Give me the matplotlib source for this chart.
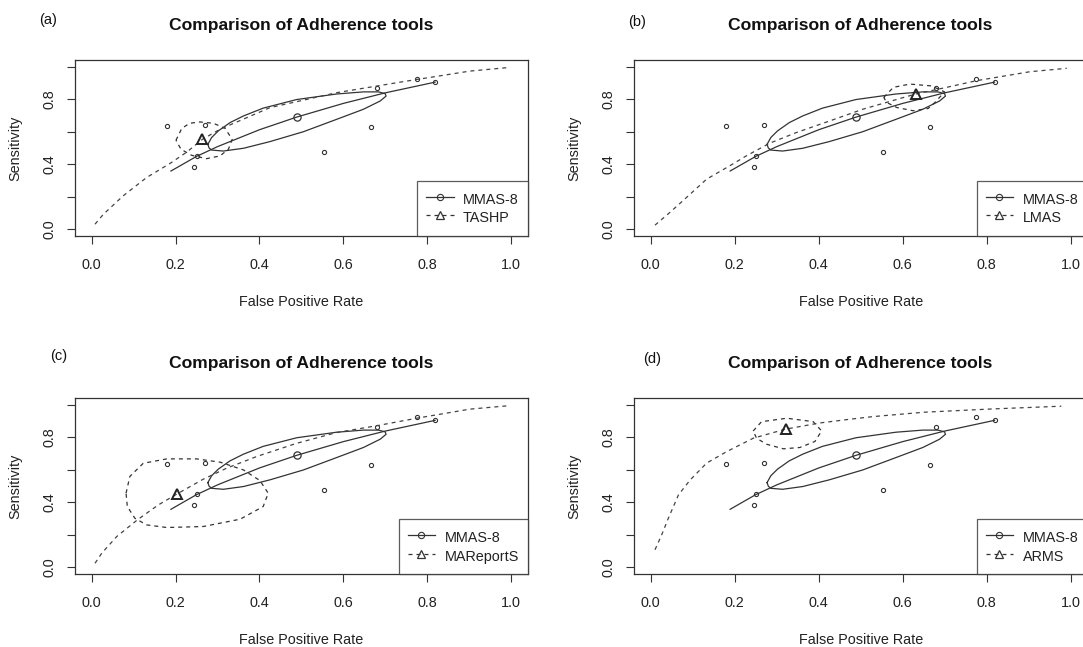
import matplotlib
matplotlib.use("Agg")
import matplotlib.pyplot as plt
from matplotlib.lines import Line2D

plt.rcParams['font.family'] = ['Liberation Sans', 'DejaVu Sans']

W, H = 1083, 647
INK = '#333333'

# study estimates of MMAS-8 (same in every panel)
study_fpr = [0.179, 0.270, 0.245, 0.250, 0.554, 0.665, 0.680, 0.775, 0.819]
study_sens = [0.635, 0.641, 0.383, 0.451, 0.475, 0.629, 0.867, 0.926, 0.905]

# MMAS-8 summary point, SROC curve and confidence region
mmas_fpr, mmas_sens = 0.489, 0.690
mmas_sroc_fpr = [0.189, 0.25, 0.30, 0.40, 0.489, 0.60, 0.70, 0.819]
mmas_sroc_sens = [0.358, 0.448, 0.508, 0.612, 0.690, 0.774, 0.839, 0.905]
mmas_region_fpr = [0.277, 0.286, 0.302, 0.330, 0.362, 0.409, 0.489, 0.584, 0.648, 0.684,
                   0.700, 0.702, 0.688, 0.648, 0.584, 0.505, 0.425, 0.362, 0.314, 0.286,
                   0.280]
mmas_region_sens = [0.522, 0.564, 0.605, 0.656, 0.697, 0.745, 0.798, 0.832, 0.845, 0.845,
                    0.834, 0.819, 0.789, 0.738, 0.676, 0.600, 0.539, 0.498, 0.481, 0.487,
                    0.500]

# comparison tools, one per panel
panel_tags = ['(a)', '(b)', '(c)', '(d)']
tools = ['TASHP', 'LMAS', 'MAReportS', 'ARMS']
tool_fpr = [0.264, 0.631, 0.204, 0.321]
tool_sens = [0.553, 0.832, 0.453, 0.851]

tool_sroc_fpr = [
    [0.008, 0.028, 0.075, 0.131, 0.187, 0.227, 0.264, 0.306, 0.425, 0.584, 0.743, 0.902, 0.990],
    [0.010, 0.045, 0.085, 0.133, 0.188, 0.228, 0.284, 0.347, 0.427, 0.506, 0.631, 0.705, 0.776, 0.903, 0.991],
    [0.008, 0.024, 0.060, 0.111, 0.159, 0.204, 0.266, 0.322, 0.394, 0.489, 0.584, 0.680, 0.775, 0.902, 0.990],
    [0.010, 0.026, 0.042, 0.066, 0.094, 0.133, 0.181, 0.244, 0.321, 0.403, 0.475, 0.529, 0.651, 0.812, 0.978],
]
tool_sroc_sens = [
    [0.031, 0.092, 0.205, 0.318, 0.405, 0.475, 0.553, 0.615, 0.748, 0.840, 0.908, 0.973, 0.994],
    [0.025, 0.102, 0.195, 0.308, 0.390, 0.452, 0.530, 0.595, 0.667, 0.739, 0.832, 0.873, 0.914, 0.969, 0.990],
    [0.026, 0.088, 0.191, 0.297, 0.385, 0.453, 0.543, 0.611, 0.683, 0.764, 0.830, 0.872, 0.918, 0.974, 0.994],
    [0.109, 0.201, 0.304, 0.447, 0.539, 0.642, 0.713, 0.795, 0.851, 0.889, 0.912, 0.928, 0.955, 0.975, 0.992],
]
tool_region_fpr = [
    [0.201, 0.215, 0.234, 0.258, 0.290, 0.318, 0.335, 0.326, 0.306, 0.274, 0.238, 0.213],
    [0.555, 0.578, 0.617, 0.668, 0.700, 0.677, 0.661, 0.625, 0.586, 0.562],
    [0.082, 0.091, 0.123, 0.179, 0.250, 0.306, 0.362, 0.401, 0.421, 0.409, 0.354, 0.266,
     0.179, 0.131, 0.103, 0.085],
    [0.244, 0.264, 0.324, 0.387, 0.407, 0.391, 0.355, 0.316, 0.276, 0.252],
]
tool_region_sens = [
    [0.547, 0.621, 0.652, 0.660, 0.652, 0.621, 0.553, 0.492, 0.451, 0.434, 0.455, 0.492],
    [0.811, 0.873, 0.893, 0.882, 0.845, 0.780, 0.743, 0.729, 0.749, 0.780],
    [0.457, 0.560, 0.641, 0.668, 0.668, 0.648, 0.600, 0.535, 0.457, 0.375, 0.297, 0.252,
     0.246, 0.262, 0.303, 0.375],
    [0.840, 0.897, 0.918, 0.897, 0.840, 0.775, 0.738, 0.730, 0.758, 0.795],
]

x_ticks = [0.0, 0.2, 0.4, 0.6, 0.8, 1.0]
x_ticklabels = ['0.0', '0.2', '0.4', '0.6', '0.8', '1.0']
y_ticks = [0.0, 0.2, 0.4, 0.6, 0.8, 1.0]
y_ticklabels = ['0.0', '', '0.4', '', '0.8', '']

# layout in pixels: (left, right) columns and (top, bottom) rows of the plot boxes
cols = [(74.9, 527.8), (634.0, 1087.3)]
rows = [(60.2, 235.7), (398.4, 574.0)]
tag_pos = [(48, 20), (637, 22), (58.5, 356), (652, 359)]

fig = plt.figure(figsize=(W / 100, H / 100), dpi=100)
fs = 10.4
dash = (3.2, 3.2)


def closed(xs):
    return list(xs) + [xs[0]]


for i in range(4):
    r, c = divmod(i, 2)
    left, right = cols[c]
    top, bottom = rows[r]
    ax = fig.add_axes([left / W, 1 - bottom / H, (right - left) / W, (bottom - top) / H])

    # study points
    ax.plot(study_fpr, study_sens, ls='none', marker='o', ms=3.0, mfc='none',
            mec=INK, mew=0.8)

    # MMAS-8
    ax.plot(closed(mmas_region_fpr), closed(mmas_region_sens), color=INK, lw=0.9)
    ax.plot(mmas_sroc_fpr, mmas_sroc_sens, color=INK, lw=0.9)
    ax.plot([mmas_fpr], [mmas_sens], ls='none', marker='o', ms=5.2, mfc='none',
            mec=INK, mew=0.9)

    # comparison tool
    ax.plot(closed(tool_region_fpr[i]), closed(tool_region_sens[i]), color=INK, lw=0.9,
            dashes=dash)
    ax.plot(tool_sroc_fpr[i], tool_sroc_sens[i], color='#444444', lw=0.9, dashes=dash)
    ax.plot([tool_fpr[i]], [tool_sens[i]], ls='none', marker='^', ms=6.5, mfc='none',
            mec='#222222', mew=1.4)

    ax.set_xlim(-0.04, 1.04)
    ax.set_ylim(-0.04, 1.04)
    ax.set_xticks(x_ticks)
    ax.set_xticklabels(x_ticklabels)
    ax.set_yticks(y_ticks)
    ax.set_yticklabels(y_ticklabels, rotation=90, va='center')
    ax.tick_params(axis='both', direction='out', length=5.5, width=0.8, colors=INK,
                   labelsize=fs, labelcolor='#222222')
    ax.tick_params(axis='x', pad=10.5)
    ax.tick_params(axis='y', pad=7.5)
    for sp in ax.spines.values():
        sp.set_color(INK)
        sp.set_linewidth(0.9)

    handles = [
        Line2D([], [], color=INK, lw=0.9, marker='o', ms=4.5, mfc='none', mew=0.8),
        Line2D([], [], color=INK, lw=0.9, dashes=dash, marker='^', ms=5.5, mfc='none',
               mew=0.9),
    ]
    leg = ax.legend(handles, ['MMAS-8', tools[i]], loc='lower right', fontsize=fs,
                    frameon=True, fancybox=False, borderaxespad=0, borderpad=0.62,
                    handlelength=1.9, handletextpad=0.65, handleheight=1.58,
                    labelspacing=0.0)
    leg.get_frame().set_edgecolor(INK)
    leg.get_frame().set_linewidth(0.9)
    for t in leg.get_texts():
        t.set_color('#222222')

    cx = (left + right) / 2
    cy = (top + bottom) / 2
    fig.text(cx / W, 1 - (top - 34.5) / H, 'Comparison of Adherence tools', ha='center',
             va='center', fontsize=12.6, fontweight='bold', color='#111111')
    fig.text(cx / W, 1 - (bottom + 65.8) / H, 'False Positive Rate', ha='center',
             va='center', fontsize=fs, color='#222222')
    fig.text((left - 60) / W, 1 - cy / H, 'Sensitivity', ha='center', va='center',
             rotation=90, fontsize=fs, color='#222222')
    tx, ty = tag_pos[i]
    fig.text(tx / W, 1 - ty / H, panel_tags[i], ha='center', va='center', fontsize=10.5,
             color='#111111')

fig.savefig('out.png', dpi=100)
